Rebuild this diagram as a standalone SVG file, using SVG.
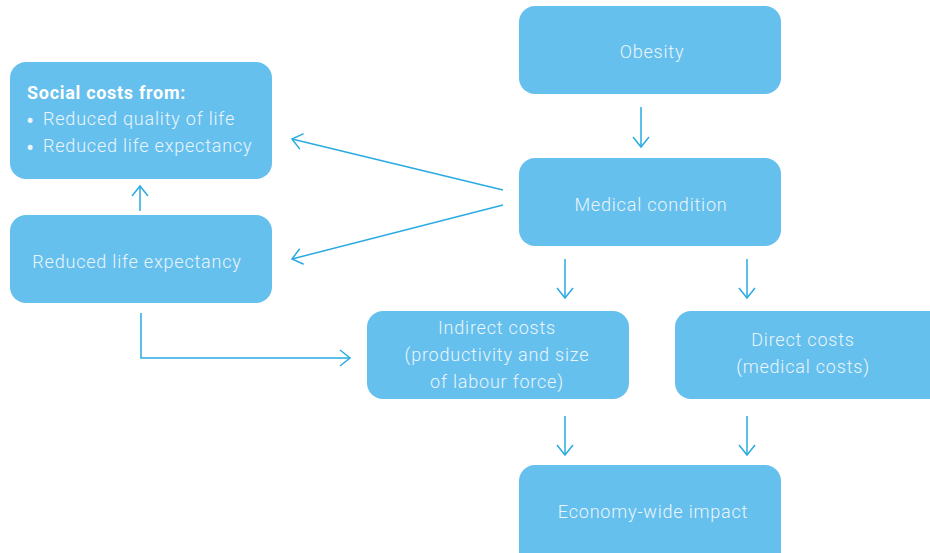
<svg xmlns="http://www.w3.org/2000/svg" width="930" height="553" viewBox="0 0 930 553">
<style>
.box{fill:#66c0ed;}
.t{font-family:Roboto,"Liberation Sans",sans-serif;font-weight:300;font-size:18px;fill:#eaf5fc;letter-spacing:0.8px;}
.c{text-anchor:middle;}
.b{font-weight:700;letter-spacing:0.7px;fill:#ffffff;}
.bu{font-size:24px;font-weight:400;}
.ln{fill:none;stroke:#29abe2;stroke-width:1.5;}
</style>
<defs>
<marker id="ah" markerUnits="userSpaceOnUse" markerWidth="24" markerHeight="24" viewBox="-12 -12 24 24" refX="0" refY="0" orient="auto">
<path d="M-10,-8 L0,0 L-10,8" fill="none" stroke="#29abe2" stroke-width="1.5"/>
</marker>
</defs>
<rect width="930" height="553" fill="#ffffff"/>
<g id="connectors">
<path class="ln" marker-end="url(#ah)" d="M641,107 L641,147"/>
<path class="ln" marker-end="url(#ah)" d="M503,190 L292,139"/>
<path class="ln" marker-end="url(#ah)" d="M503,205 L292,259"/>
<path class="ln" marker-end="url(#ah)" d="M140,211 L140,186"/>
<path class="ln" marker-end="url(#ah)" d="M565,259 L565,298"/>
<path class="ln" marker-end="url(#ah)" d="M747,259 L747,298"/>
<path class="ln" marker-end="url(#ah)" d="M141,313 L141,358 L350,358"/>
<path class="ln" marker-end="url(#ah)" d="M565,416 L565,455"/>
<path class="ln" marker-end="url(#ah)" d="M747,416 L747,455"/>
</g>
<g id="obesity">
<rect class="box" x="519" y="6" width="262" height="88" rx="16"/>
<text class="t c" x="652" y="58">Obesity</text>
</g>
<g id="medical">
<rect class="box" x="519" y="158" width="262" height="88" rx="16"/>
<text class="t c" x="651" y="211">Medical condition</text>
</g>
<g id="social">
<rect class="box" x="10" y="62" width="262" height="117" rx="16"/>
<text class="t b" x="27" y="99">Social costs from:</text>
<text class="t" x="26" y="125"><tspan class="bu" dy="4">•</tspan><tspan x="43" dy="-4">Reduced quality of life</tspan></text>
<text class="t" x="26" y="152"><tspan class="bu" dy="4">•</tspan><tspan x="43" dy="-4">Reduced life expectancy</tspan></text>
</g>
<g id="reduced">
<rect class="box" x="10" y="215" width="262" height="88" rx="16"/>
<text class="t c" x="137" y="268">Reduced life expectancy</text>
</g>
<g id="indirect">
<rect class="box" x="367" y="311" width="262" height="88" rx="16"/>
<text class="t c" x="497" y="334">Indirect costs</text>
<text class="t c" x="497" y="361">(productivity and size</text>
<text class="t c" x="497" y="388">of labour force)</text>
</g>
<g id="direct">
<rect class="box" x="675" y="311" width="275" height="88" rx="16"/>
<text class="t c" x="803" y="346">Direct costs</text>
<text class="t c" x="803" y="373">(medical costs)</text>
</g>
<g id="economy">
<rect class="box" x="519" y="465" width="262" height="110" rx="16"/>
<text class="t c" x="653" y="518">Economy-wide impact</text>
</g>
</svg>
